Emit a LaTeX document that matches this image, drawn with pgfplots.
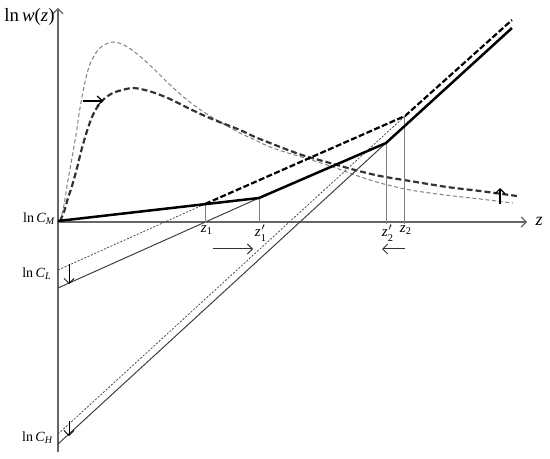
\documentclass[border=0pt]{standalone}
\usepackage{pgfplots}
\pgfplotsset{compat=1.18}
\usetikzlibrary{arrows.meta}
\usepackage{fontspec}
\setmainfont{Liberation Serif}
\newcommand{\sub}[1]{\mbox{\fontsize{5.2}{6}\selectfont #1}}

\begin{document}
\begin{tikzpicture}[>={Straight Barb[length=2.5pt,width=5pt]},
    lab/.style={font=\fontsize{7}{8}\selectfont, inner sep=0pt}]
\begin{axis}[
    scale only axis,
    width=275pt, height=229.5pt,
    xmin=0, xmax=550, ymin=0, ymax=459,
    y dir=reverse,
    hide axis,
    clip=false,
]
% keep the full frame in the bounding box
\addplot[draw=none] coordinates {(0,0) (550,459)};

% axes
\addplot[gray!80!black, line width=0.6pt, ->] coordinates {(58,452) (58,8)};
\addplot[gray!80!black, line width=0.6pt, ->] coordinates {(58,222) (527,222)};

% thin gray dashed curve
\addplot[gray, line width=0.5pt, dash pattern=on 2pt off 1.3pt, smooth] coordinates {
    (60,221) (64,205) (68,180) (72,158) (76,135) (80,108) (85,82) (90,64)
    (98,50) (106,44) (113,42) (122,44) (132,50) (142,58) (155,70) (165,80)
    (180,94) (195,106) (210,116) (222,123) (240,133) (255,140) (270,147)
    (288,153) (305,158) (330,166) (355,175) (380,183) (410,190) (445,195)
    (480,199) (513,203)};

% thick dashed curve
\addplot[black!80, line width=1.1pt, dash pattern=on 3pt off 1.5pt, smooth] coordinates {
    (60,221) (64,212) (68,198) (72,186) (77,168) (82,148) (87,131) (92,117)
    (98,106) (105,98) (113,93) (122,90) (133,88) (145,90) (155,93) (170,99)
    (188,108) (205,116) (222,123) (240,130) (255,137) (270,143) (288,150)
    (305,156) (330,163) (355,170) (380,176) (410,181) (447,187) (480,191)
    (517,196)};

% thin lines from ln C_L and ln C_H
\addplot[black!70, line width=0.4pt, dash pattern=on 1pt off 0.8pt] coordinates {(58,270) (205,204)};
\addplot[black!75, line width=0.5pt] coordinates {(58,288) (259,198)};
\addplot[black!70, line width=0.4pt, dash pattern=on 1pt off 0.8pt] coordinates {(58,434) (405,116)};
\addplot[black!75, line width=0.5pt] coordinates {(58,444) (386,143)};

% vertical guides
\addplot[gray, line width=0.4pt] coordinates {(205,204) (205,223)};
\addplot[gray, line width=0.4pt] coordinates {(259,198) (259,223)};
\addplot[gray, line width=0.4pt] coordinates {(386,143) (386,224)};
\addplot[gray, line width=0.4pt] coordinates {(404,116) (404,224)};

% thick dashed kinked line
\addplot[black, line width=1.1pt, dash pattern=on 3pt off 1.2pt] coordinates {(205,204) (405,116) (512,20)};
% thick solid kinked line
\addplot[black, line width=1.25pt] coordinates {(58,221) (259,198) (386,143) (512,28)};

% shift arrows
\addplot[black, line width=0.6pt, ->] coordinates {(83,101) (103,101)};
\addplot[black, line width=0.6pt, ->] coordinates {(500,204) (500,188)};
\addplot[black, line width=0.4pt, ->] coordinates {(69,264) (69,284)};
\addplot[black, line width=0.4pt, ->] coordinates {(69,421) (69,436)};
\addplot[black!80, line width=0.5pt, ->] coordinates {(213,249) (253,249)};
\addplot[black!80, line width=0.5pt, ->] coordinates {(405,249) (382,249)};

% labels
\node[lab, anchor=west, font=\fontsize{9.4}{10}\selectfont] at (axis cs:4,17) {ln\,\textit{w}(\textit{z})};
\node[lab, anchor=base east] at (axis cs:56,223) {ln\,\textit{C}\textsubscript{\textit{M}}};
\node[lab, anchor=base east] at (axis cs:52,278) {ln\,\textit{C}\textsubscript{\textit{L}}};
\node[lab, anchor=base east] at (axis cs:54,441) {ln\,\textit{C}\textsubscript{\textit{H}}};
\node[lab, font=\fontsize{9}{10}\selectfont] at (axis cs:539,221) {\textit{z}};
\node[lab, anchor=north, font=\fontsize{7.5}{8}\selectfont] at (axis cs:207,225) {\textit{z}$_{\sub{1}}$};
\node[lab, anchor=north, font=\fontsize{7.5}{8}\selectfont] at (axis cs:261,225) {\textit{z}$'_{\sub{1}}$};
\node[lab, anchor=north, font=\fontsize{7.5}{8}\selectfont] at (axis cs:388,225) {\textit{z}$'_{\sub{2}}$};
\node[lab, anchor=north, font=\fontsize{7.5}{8}\selectfont] at (axis cs:406,225) {\textit{z}$_{\sub{2}}$};
\end{axis}
\end{tikzpicture}
\end{document}
